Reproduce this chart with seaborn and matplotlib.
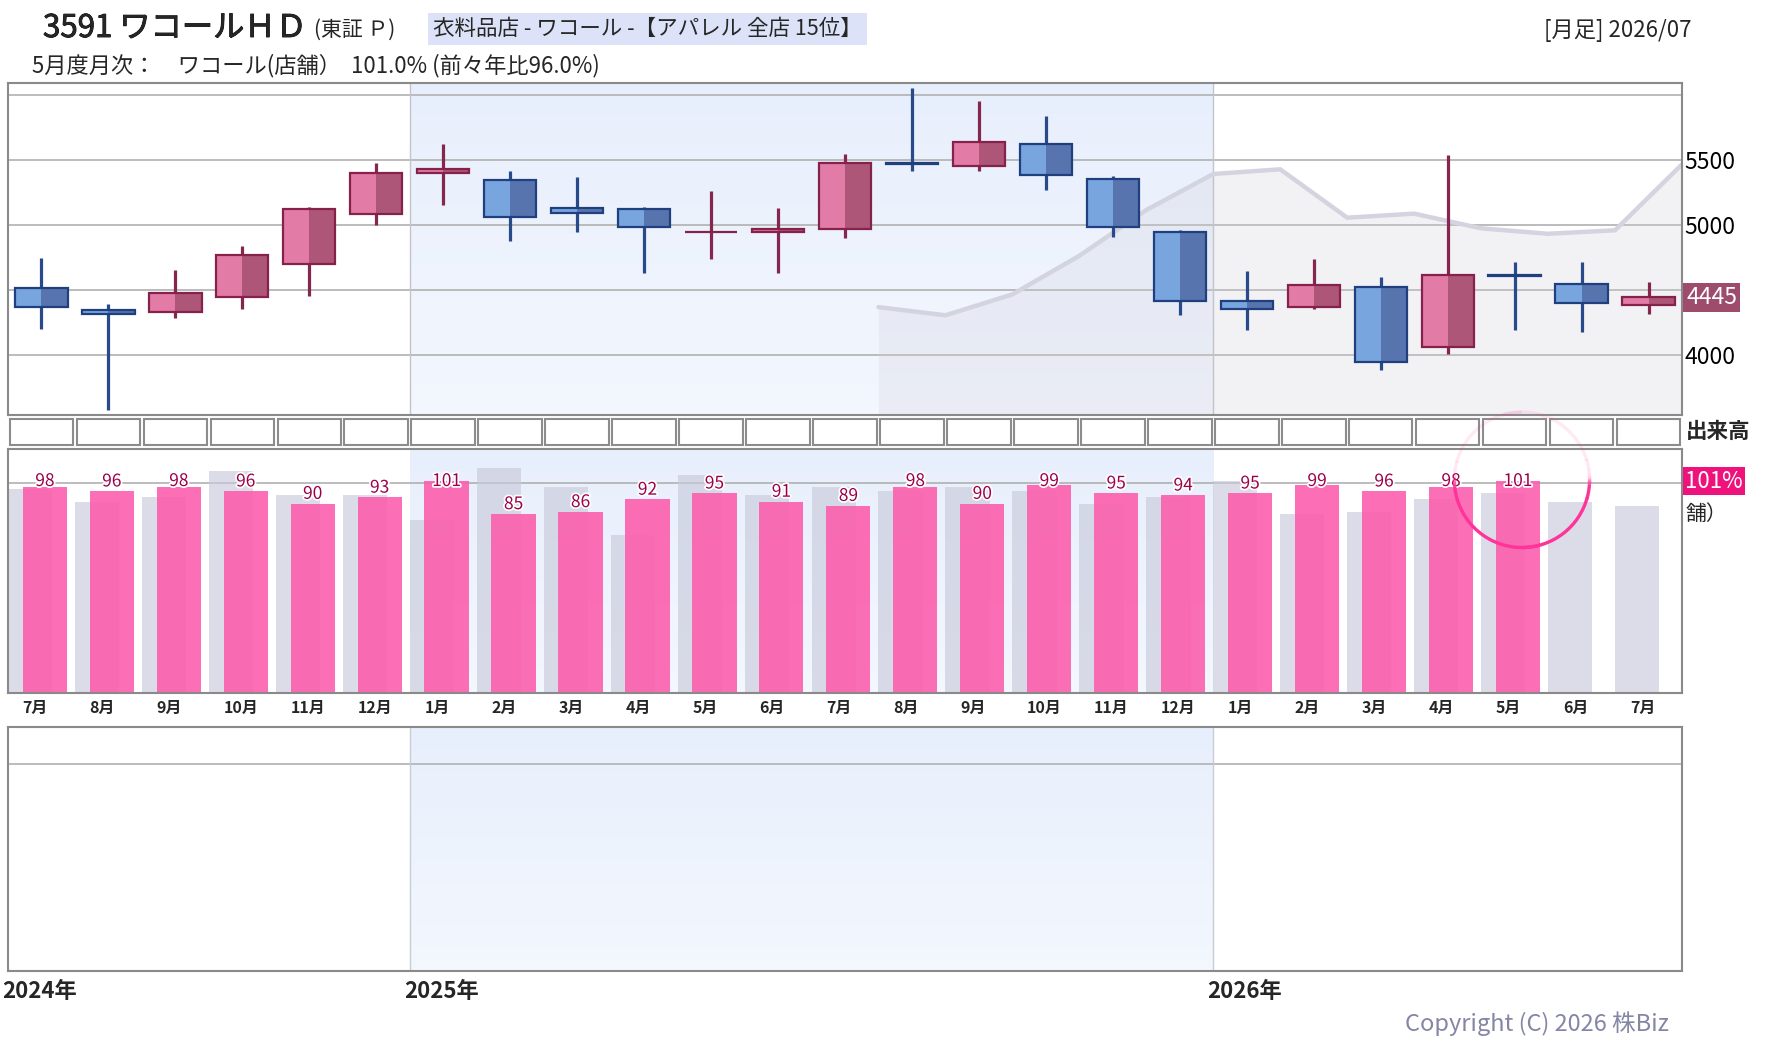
import numpy as np
import matplotlib
matplotlib.use("Agg")
import matplotlib.pyplot as plt
import matplotlib.patheffects as pe
from matplotlib.colors import LinearSegmentedColormap
from matplotlib.patches import Arc
from matplotlib.transforms import blended_transform_factory, offset_copy
import seaborn as sns

## Monthly candle chart + monthly store sales (YoY %) for 3591 Wacoal HD

# months 2024/07 .. 2026/07
months = ["7月", "8月", "9月", "10月", "11月", "12月",
          "1月", "2月", "3月", "4月", "5月", "6月", "7月", "8月", "9月", "10月", "11月", "12月",
          "1月", "2月", "3月", "4月", "5月", "6月", "7月"]

# monthly OHLC
opens = [4515, 4346, 4331, 4446, 4700, 5085, 5400, 5348, 5131, 5123, 4946, 4946, 4969,
         5476, 5458, 5623, 5354, 4946, 4415, 4374, 4523, 4061, 4617, 4546, 4385]
highs = [4748, 4395, 4656, 4841, 5141, 5479, 5625, 5418, 5372, 5141, 5264, 5133, 5548,
         6056, 5956, 5841, 5377, 4964, 4648, 4741, 4602, 5538, 4715, 4715, 4561]
lows = [4205, 3582, 4289, 4359, 4459, 5002, 5158, 4882, 4951, 4635, 4741, 4635, 4905,
        5420, 5420, 5274, 4912, 4312, 4197, 4359, 3889, 4012, 4197, 4182, 4320]
closes = [4374, 4318, 4477, 4769, 5123, 5400, 5431, 5062, 5092, 4985, 4950, 4971, 5477,
          5472, 5638, 5385, 4985, 4415, 4354, 4538, 3951, 4615, 4613, 4400, 4445]

# grey band line (values at month ends, only from 2025/07)
band_vals = [np.nan] * 12 + [4371, 4308, 4469, 4766, 5118, 5395, 5431, 5059, 5090,
                             4977, 4935, 4962, 5469]

# store sales YoY (%) and the previous year's figures (grey bars)
sales_yoy = [98, 96, 98, 96, 90, 93, 101, 85, 86, 92, 95, 91, 89, 98, 90, 99, 95, 94,
             95, 99, 96, 98, 101, np.nan, np.nan]
sales_prev = [97, 91, 93, 106, 94, 94, 82, 107, 98, 75, 104, 94, 98, 96, 98, 96, 90, 93,
              101, 85, 86, 92, 95, 91, 89]

years = ["2024年", "2025年", "2026年"]

sns.set_theme(style="white")
plt.rcParams["font.family"] = ["Noto Sans CJK JP", "DejaVu Sans"]

W, H = 1780, 1054
fig = plt.figure(figsize=(W / 100, H / 100), dpi=100)
fig.patch.set_facecolor("white")


def box(l, t, r, b):
    return [l / W, 1 - b / H, (r - l) / W, (b - t) / H]


ax_p = fig.add_axes(box(8, 83, 1682, 415))
ax_v = fig.add_axes(box(8, 419, 1682, 445))
ax_b = fig.add_axes(box(8, 449, 1682, 693))
ax_e = fig.add_axes(box(8, 727, 1682, 971))

x = np.arange(len(months))
XL = (-0.5, len(months) - 0.5)
P_LIM = (3541, 6095)
B_LIM = (-1.6, 116.4)
spine_c = "#8a8a8a"
bg = LinearSegmentedColormap.from_list("bg", ["#f3f7fe", "#e8effc"])


def shade_2025(ax, y0, y1):
    ax.imshow(np.linspace(0, 1, 64).reshape(-1, 1), cmap=bg, origin="lower",
              aspect="auto", extent=[5.5, 17.5, y0, y1], zorder=0)


for ax in (ax_p, ax_b, ax_e):
    for s in ax.spines.values():
        s.set_color(spine_c)
        s.set_linewidth(1.5)
    ax.set_xticks([])

# ---- price panel
shade_2025(ax_p, *P_LIM)
band = np.array(band_vals, dtype=float)
bx = x + 0.5
m = ~np.isnan(band)
ax_p.fill_between(bx[m], band[m], P_LIM[0], color="#d2d2dd", alpha=0.27, lw=0, zorder=1)
sns.lineplot(x=bx[m], y=band[m], ax=ax_p, color="#d4d4e1", lw=3.2, zorder=1.5)

for xb in (5.5, 17.5):
    ax_p.axvline(xb, color="#c2c4ca", lw=1, zorder=1.2)

o = np.array(opens, float)
c = np.array(closes, float)
up = c >= o
lo = np.minimum(o, c)
hgt = np.abs(c - o)
w = 0.78
styles = [(up, "#e27ca7", "#ad5677", "#85214b", "#85264f"),
          (~up, "#79a5df", "#5874ae", "#1f3f7f", "#284a8a")]
for mask, light, dark, edge, wick in styles:
    ax_p.vlines(x[mask], np.array(lows)[mask], np.array(highs)[mask], color=wick,
                lw=2.3, zorder=2)
    ax_p.bar(x[mask] - w / 4, hgt[mask], width=w / 2, bottom=lo[mask], color=light,
             lw=0, zorder=3)
    ax_p.bar(x[mask] + w / 4, hgt[mask], width=w / 2, bottom=lo[mask], color=dark,
             lw=0, zorder=3)
    ax_p.bar(x[mask], hgt[mask], width=w, bottom=lo[mask], fill=False, edgecolor=edge,
             lw=1.6, zorder=4)

ax_p.set_xlim(*XL)
ax_p.set_ylim(*P_LIM)
ax_p.set_yticks([4000, 4500, 5000, 5500, 6000])
ax_p.set_yticklabels(["4000", "", "5000", "5500", ""])
ax_p.yaxis.tick_right()
ax_p.tick_params(axis="y", length=0, pad=2, labelsize=16.5, colors="black")
ax_p.yaxis.grid(True, color="#b6b6b6", lw=1.3)
ax_p.set_axisbelow(True)
ax_p.set_xlabel("")
ax_p.set_ylabel("")
ax_p.annotate(f"{closes[-1]}", xy=(1.0, closes[-1]), xycoords=("axes fraction", "data"),
              xytext=(3, 0), textcoords="offset points", ha="left", va="center",
              fontsize=16.5, color="white",
              bbox=dict(boxstyle="square,pad=0.12", fc="#9d4c6b", ec="none"))

# ---- volume strip (empty boxes)
vol_boxes = [1] * len(months)
ax_v.bar(x, vol_boxes, width=0.95, color="white", edgecolor="#8c8c8c", lw=1.5,
         clip_on=False)
ax_v.set_xlim(*XL)
ax_v.set_ylim(0, 1)
ax_v.axis("off")
fig.text(1686 / W, 1 - 431 / H, "出来高", fontsize=15.5, fontweight="bold",
         va="center", ha="left")

# ---- monthly sales panel
shade_2025(ax_b, *B_LIM)
ax_b.axhline(100, color="#b0b0b0", lw=1.2, zorder=0.5)
prev = np.array(sales_prev, float)
yoy = np.array(sales_yoy, float)
ax_b.bar(x - 0.17, prev - B_LIM[0], width=0.66, bottom=B_LIM[0], color="#c9cadb",
         alpha=0.65, lw=0, zorder=1)
ax_b.bar(x + 0.05, yoy - B_LIM[0], width=0.66, bottom=B_LIM[0], color="#fc5fae",
         alpha=0.9, lw=0, zorder=2)
lab_y = np.minimum(yoy + 2.3, 98.5)
for xi, v, ly in zip(x, yoy, lab_y):
    if np.isnan(v):
        continue
    ax_b.text(xi + 0.05, ly, f"{v:.0f}", ha="center", va="baseline", fontsize=12.5,
              color="#9c0049", zorder=3,
              path_effects=[pe.withStroke(linewidth=2.5, foreground="white")])
ax_b.set_xlim(*XL)
ax_b.set_ylim(*B_LIM)
ax_b.set_yticks([])
ax_b.set_xticks(x - 0.28)
ax_b.set_xticklabels(months, ha="left", fontsize=11.5, fontweight="bold")
ax_b.tick_params(axis="x", length=0, pad=5)

# highlight circle around the latest month
ci = len([v for v in sales_yoy if not np.isnan(v)]) - 1
for t0 in range(0, 360, 6):
    mid = np.radians(t0 + 3)
    a = 0.1 + 0.9 * ((1 - np.sin(mid)) / 2) ** 0.9
    ax_b.add_patch(Arc((ci + 0.11, 101.5), 2.02, 65.5, theta1=t0, theta2=t0 + 6.5,
                       color="#ff3399", lw=2.4, alpha=a, clip_on=False, zorder=5))

fig.text(1685 / W, 1 - 481 / H, "101%", fontsize=16, color="white", va="center",
         ha="left", bbox=dict(boxstyle="square,pad=0.1", fc="#f0127c", ec="none"))
fig.text(1686 / W, 1 - 514 / H, "舗）", fontsize=15, va="center", ha="left")

# ---- empty lower panel
shade_2025(ax_e, 0, 1)
ax_e.axhline(0.848, color="#b6b6b6", lw=1.3, zorder=0.5)
for xb in (5.5, 17.5):
    ax_e.axvline(xb, color="#c8ccd4", lw=1, zorder=0.6)
ax_e.set_xlim(*XL)
ax_e.set_ylim(0, 1)
ax_e.set_yticks([])

yr_tr = offset_copy(blended_transform_factory(ax_e.transData, fig.transFigure),
                    fig=fig, x=-6, y=0, units="dots")
for xb, yl in zip((-0.5, 5.5, 17.5), years):
    fig.text(xb, 1 - 992 / H, yl, transform=yr_tr, fontsize=16, fontweight="bold",
             va="center", ha="left")

# ---- header texts
fig.text(43 / W, 1 - 28 / H, "3591 ワコールＨＤ", fontsize=22.5, va="center", ha="left",
         path_effects=[pe.withStroke(linewidth=0.6, foreground="black")])
fig.text(314 / W, 1 - 30 / H, "(東証 Ｐ)", fontsize=15, va="center", ha="left")
fig.text(433 / W, 1 - 29 / H, "衣料品店 - ワコール -【アパレル 全店 15位】", fontsize=15.5,
         va="center", ha="left",
         bbox=dict(boxstyle="square,pad=0.25", fc="#dce3f8", ec="none"))
fig.text(1691 / W, 1 - 31 / H, "[月足] 2026/07", fontsize=16, va="center", ha="right")
fig.text(32 / W, 1 - 66 / H, "5月度月次：　ワコール(店舗）  101.0% (前々年比96.0%)",
         fontsize=16, va="center", ha="left")
fig.text(1669 / W, 1 - 1024 / H, "Copyright (C) 2026 株Biz", fontsize=17,
         color="#8585a6", va="center", ha="right")

fig.savefig("out.png", dpi=100)
